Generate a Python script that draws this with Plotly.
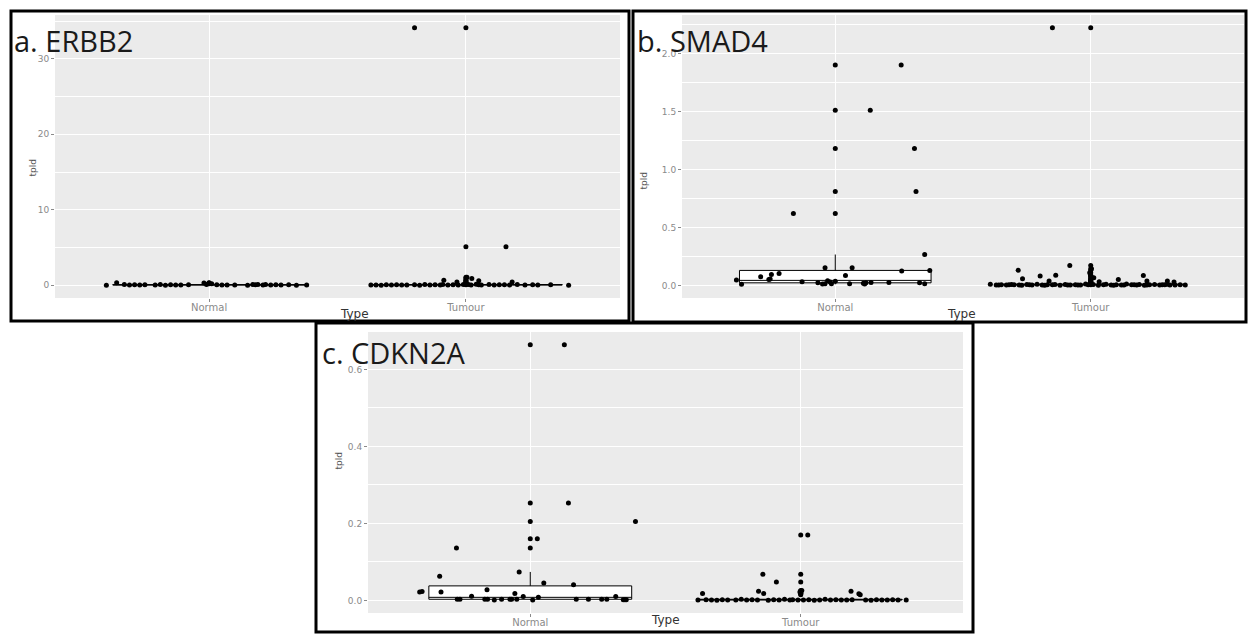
import plotly.graph_objects as go

W, H = 1248, 634
categories = ["Normal", "Tumour"]

# ---------------- a. ERBB2 ----------------
erbb2_normal_vals = [0.02, 0.35, 0.10, 0.05, 0.08, 0.03, 0.06, 0.04, 0.09, 0.02, 0.07, 0.05, 0.03, 0.08,
                     0.30, 0.12, 0.22, 0.06, 0.04, 0.03, 0.05, 0.02, 0.09, 0.07, 0.12, 0.05, 0.10, 0.04,
                     0.06, 0.03, 0.08, 0.02, 0.05]
erbb2_normal_jit = [-0.40, -0.36, -0.33, -0.31, -0.29, -0.27, -0.25, -0.21, -0.19, -0.17, -0.15, -0.13, -0.11, -0.08,
                    -0.02, -0.01, 0.01, 0.03, 0.05, 0.07, 0.10, 0.15, 0.17, 0.18, 0.19, 0.21, 0.22, 0.24,
                    0.26, 0.28, 0.31, 0.34, 0.38]
erbb2_tumour_vals = [0.03, 0.05, 0.02, 0.06, 0.04, 0.08, 0.03, 0.05, 0.07, 0.02, 0.09, 0.04, 0.06, 0.03,
                     0.10, 0.05, 0.08, 0.04, 0.12, 0.06, 0.09, 0.03, 0.15, 0.07, 0.05, 0.10, 0.04, 0.08,
                     0.06, 0.03, 0.09, 0.05, 0.07, 0.04, 0.06, 0.02,
                     0.66, 0.43, 1.05, 0.90, 0.60, 0.45, 5.1, 34.1]
erbb2_tumour_jit = [-0.37, -0.35, -0.33, -0.31, -0.29, -0.27, -0.25, -0.23, -0.20, -0.18, -0.16, -0.14, -0.12, -0.10,
                    -0.09, -0.07, -0.05, -0.03, -0.01, 0.0, 0.01, 0.02, 0.04, 0.05, 0.06, 0.09, 0.11, 0.13,
                    0.15, 0.17, 0.20, 0.23, 0.26, 0.28, 0.33, 0.40,
                    -0.086, -0.035, 0.004, 0.023, 0.05, 0.18, 0.156, -0.20]

# ---------------- b. SMAD4 ----------------
smad4_normal_vals = [0.046, 0.009, 0.075, 0.050, 0.055, 0.094, 0.103, 0.032, 0.023, 0.012, 0.015, 0.040, 0.030,
                     0.015, 0.035, 0.152, 0.086, 0.014, 0.152, 0.018, 0.012, 0.022, 0.025, 0.025, 0.123, 0.023,
                     0.014, 0.266, 0.129, 1.90, 1.51, 1.18, 0.81, 0.62]
smad4_normal_jit = [-0.387, -0.367, -0.292, -0.260, -0.255, -0.250, -0.220, -0.130, -0.068, -0.050, -0.040, -0.030, -0.020,
                    -0.015, 0.000, -0.040, 0.040, 0.056, 0.066, 0.110, 0.115, 0.120, 0.140, 0.210, 0.260, 0.330,
                    0.350, 0.350, 0.370, 0.258, 0.137, 0.310, 0.316, -0.164]
smad4_tumour_vals = [0.009, 0.004, 0.006, 0.003, 0.008, 0.005, 0.002, 0.007, 0.004, 0.010, 0.003, 0.006, 0.005, 0.002,
                     0.008, 0.004, 0.006, 0.003, 0.012, 0.005, 0.007, 0.002, 0.009, 0.004, 0.006, 0.003, 0.011,
                     0.005, 0.004, 0.007, 0.002, 0.006, 0.008, 0.003, 0.005, 0.010, 0.004, 0.006, 0.003,
                     0.004, 0.006, 0.003, 0.005, 0.002, 0.007, 0.004, 0.003, 0.006, 0.005, 0.002, 0.004,
                     0.006, 0.003, 0.005, 0.004,
                     0.131, 0.057, 0.080, 0.037, 0.088, 0.172, 0.032, 0.051, 0.086, 0.037, 0.037, 0.030,
                     0.143, 0.066, 0.109, 2.22]
smad4_tumour_jit = [-0.393, -0.37, -0.35, -0.33, -0.31, -0.30, -0.27, -0.25, -0.23, -0.21, -0.19, -0.17, -0.15, -0.12,
                    -0.10, -0.08, -0.06, -0.04, -0.02, -0.01, 0.01, 0.03, 0.06, 0.08, 0.10, 0.12, 0.14,
                    0.16, 0.18, 0.19, 0.21, 0.23, 0.25, 0.27, 0.28, 0.30, 0.31, 0.35, 0.37,
                    -0.36, -0.32, -0.28, -0.24, -0.18, -0.14, -0.09, -0.05, 0.00, 0.05, 0.09, 0.13,
                    0.17, 0.22, 0.29, 0.33,
                    -0.284, -0.267, -0.198, -0.163, -0.137, -0.082, 0.033, 0.108, 0.206, 0.22, 0.30, 0.326,
                    0.003, 0.012, -0.004, -0.15]

# ---------------- c. CDKN2A ----------------
cdkn2a_normal_vals = [0.022, 0.023, 0.063, 0.022, 0.136, 0.003, 0.003, 0.011, 0.003, 0.003, 0.028, 0.001, 0.003,
                      0.003, 0.003, 0.003, 0.018, 0.074, 0.010, 0.001, 0.008, 0.045, 0.160, 0.041, 0.003, 0.003,
                      0.003, 0.003, 0.010, 0.002, 0.002, 0.664, 0.253, 0.205, 0.002]
cdkn2a_normal_jit = [-0.409, -0.400, -0.335, -0.330, -0.273, -0.270, -0.260, -0.217, -0.168, -0.158, -0.160, -0.133, -0.106,
                     -0.075, -0.069, -0.050, -0.057, -0.041, -0.026, 0.009, 0.030, 0.050, 0.026, 0.160, 0.170, 0.215,
                     0.264, 0.283, 0.316, 0.344, 0.350, 0.126, 0.141, 0.389, 0.355]
cdkn2a_tumour_vals = [0.001, 0.002, 0.001, 0.0005, 0.002, 0.001, 0.001, 0.003, 0.001, 0.002, 0.001, 0.0005, 0.002,
                      0.001, 0.003, 0.001, 0.002, 0.001, 0.001, 0.002, 0.0005, 0.001, 0.003, 0.001, 0.002, 0.001,
                      0.001, 0.002, 0.001, 0.0005, 0.002, 0.001, 0.001, 0.002, 0.001, 0.001,
                      0.018, 0.024, 0.018, 0.068, 0.048, 0.024, 0.017, 0.015, 0.170, 0.026, 0.022]
cdkn2a_tumour_jit = [-0.38, -0.35, -0.33, -0.31, -0.29, -0.27, -0.24, -0.22, -0.20, -0.18, -0.16, -0.12, -0.10,
                     -0.08, -0.06, -0.04, -0.03, -0.01, 0.01, 0.03, 0.05, 0.07, 0.09, 0.11, 0.13, 0.15,
                     0.17, 0.19, 0.24, 0.26, 0.28, 0.30, 0.32, 0.34, 0.36, 0.39,
                     -0.363, -0.156, -0.137, -0.140, -0.090, 0.186, 0.215, 0.220, 0.026, 0.004, -0.003]

panels = [
    dict(title="a. ERBB2", data=[(erbb2_normal_vals, erbb2_normal_jit), (erbb2_tumour_vals, erbb2_tumour_jit)],
         plot_px=(55, 15, 620, 298), dtick=10, fmt="d", border=(11, 11, 629, 321),
         title_xy=(12, 40), ylab_xy=(25, 158), xlab_xy=(338, 314)),
    dict(title="b. SMAD4", data=[(smad4_normal_vals, smad4_normal_jit), (smad4_tumour_vals, smad4_tumour_jit)],
         plot_px=(682, 15, 1244, 298), dtick=0.5, fmt=".1f", border=(633, 11, 1246, 322),
         title_xy=(635, 40), ylab_xy=(643, 170), xlab_xy=(978, 314)),
    dict(title="c. CDKN2A", data=[(cdkn2a_normal_vals, cdkn2a_normal_jit), (cdkn2a_tumour_vals, cdkn2a_tumour_jit)],
         plot_px=(368, 332, 963, 613), dtick=0.2, fmt=".1f", border=(316, 323, 973, 632),
         title_xy=(320, 352), ylab_xy=(331, 472), xlab_xy=(665, 629)),
]

fig = go.Figure()
shapes, annotations = [], []
ytick_font = dict(family="DejaVu Sans", size=9, color="#8a8a8a")
xtick_font = dict(family="DejaVu Sans", size=10, color="#8a8a8a")

for i, p in enumerate(panels):
    sfx = "" if i == 0 else str(i + 1)
    xref, yref = "x" + sfx, "y" + sfx
    allv = []
    for j, (vals, jit) in enumerate(p["data"]):
        pos = j + 1
        allv += vals
        fig.add_trace(go.Box(
            y=vals, x=[pos] * len(vals), width=0.75, boxpoints="outliers", pointpos=0, jitter=0,
            fillcolor="white", line=dict(color="black", width=1), whiskerwidth=0,
            marker=dict(color="black", size=5), quartilemethod="linear",
            xaxis=xref, yaxis=yref, showlegend=False, hoverinfo="skip"))
        fig.add_trace(go.Scatter(
            x=[pos + o for o in jit], y=vals, mode="markers",
            marker=dict(color="black", size=5), xaxis=xref, yaxis=yref,
            showlegend=False, hoverinfo="skip"))
    lo, hi = min(allv), max(allv)
    span = hi - lo
    x0, y0, x1, y1 = p["plot_px"]
    ax_common = dict(showline=False, zeroline=False, ticks="outside", ticklen=3, tickcolor="#8a8a8a",
                     showgrid=True, gridcolor="white", gridwidth=1.2)
    fig.update_layout(**{
        "xaxis" + sfx: dict(domain=[x0 / W, x1 / W], anchor=yref, range=[0.4, 2.6],
                            tickvals=[1, 2], ticktext=categories, ticklabelstandoff=-3,
                            tickfont=xtick_font, **ax_common),
        "yaxis" + sfx: dict(domain=[1 - y1 / H, 1 - y0 / H], anchor=xref,
                            range=[lo - 0.05 * span, hi + 0.05 * span], dtick=p["dtick"],
                            tickformat=p["fmt"], tickfont=ytick_font,
                            minor=dict(dtick=p["dtick"] / 2, showgrid=True, gridcolor="white", gridwidth=0.6),
                            **ax_common),
    })
    bx0, by0, bx1, by1 = p["border"]
    shapes.append(dict(type="rect", xref="paper", yref="paper", x0=bx0 / W, x1=bx1 / W,
                       y0=1 - by1 / H, y1=1 - by0 / H, line=dict(color="black", width=3)))
    tx, ty = p["title_xy"]
    annotations.append(dict(text=p["title"], x=tx / W, y=1 - ty / H, xref="paper", yref="paper",
                            xanchor="left", yanchor="middle", showarrow=False,
                            font=dict(family="Open Sans", size=29, color="#1a1a1a")))
    lx, ly = p["ylab_xy"]
    annotations.append(dict(text="tpld", x=lx / W, y=1 - ly / H, xref="paper", yref="paper",
                            textangle=-90, showarrow=False,
                            font=dict(family="DejaVu Sans", size=9, color="#555555")))
    tx2, ty2 = p["xlab_xy"]
    annotations.append(dict(text="Type", x=tx2 / W, y=1 - ty2 / H, xref="paper", yref="paper",
                            showarrow=False, font=dict(family="DejaVu Sans", size=12, color="#333333")))

fig.update_layout(width=W, height=H, autosize=False, margin=dict(l=0, r=0, t=0, b=0),
                  paper_bgcolor="white", plot_bgcolor="#EBEBEB", boxmode="overlay",
                  shapes=shapes, annotations=annotations, showlegend=False)

fig.write_html("out.html", config={"displayModeBar": False},
               post_script="document.body.style.margin='0px';document.body.style.overflow='hidden';")
